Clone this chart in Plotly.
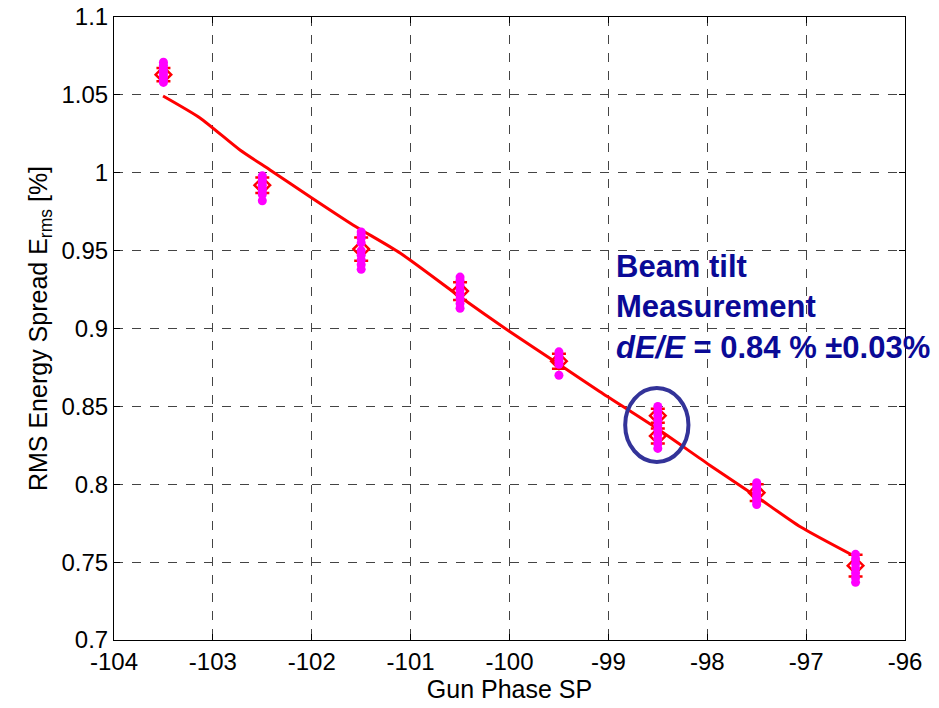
import plotly.graph_objects as go

# Gun phase set points (deg)
phase = [-103.5, -102.5, -101.5, -100.5, -99.5, -98.5, -97.5, -96.5]

# Individual shot energy spreads (%) per phase set point
shots = [
    [1.071, 1.069, 1.067, 1.065, 1.063, 1.061, 1.059, 1.058],
    [0.998, 0.996, 0.994, 0.992, 0.990, 0.988, 0.986, 0.982],
    [0.962, 0.960, 0.958, 0.955, 0.950, 0.947, 0.944, 0.941, 0.938],
    [0.933, 0.931, 0.928, 0.925, 0.922, 0.919, 0.916, 0.913],
    [0.885, 0.883, 0.881, 0.879, 0.877, 0.870],
    [0.850, 0.847, 0.844, 0.841, 0.838, 0.835, 0.832, 0.829, 0.826, 0.823],
    [0.801, 0.799, 0.797, 0.795, 0.793, 0.791, 0.789, 0.787],
    [0.755, 0.752, 0.749, 0.746, 0.743, 0.740, 0.737],
]

# Mean energy spread with rms error per measurement set
mean_phase = [-103.5, -102.5, -101.5, -100.5, -99.5, -98.5, -98.5, -97.5, -96.5]
mean_spread = [1.063, 0.992, 0.951, 0.924, 0.879, 0.844, 0.831, 0.7946, 0.7477]
mean_err = [0.0042, 0.005, 0.0075, 0.0057, 0.0048, 0.0045, 0.0048, 0.0054, 0.007]

# Simulated energy spread vs. gun phase
sim_phase = [-103.504, -103.130, -102.726, -102.422, -102.018, -101.583, -101.107,
             -100.501, -99.995, -99.489, -99.085, -98.511, -97.979, -97.500,
             -97.059, -96.496]
sim_spread = [1.0493, 1.0352, 1.0146, 1.0018, 0.9846, 0.9665, 0.9485,
              0.9204, 0.8979, 0.8766, 0.8594, 0.8359, 0.8124, 0.7920,
              0.7727, 0.7533]

x_ticks = [-104, -103, -102, -101, -100, -99, -98, -97, -96]
x_tick_text = ["-104", "-103", "-102", "-101", "-100", "-99", "-98", "-97", "-96"]
y_ticks = [0.7, 0.75, 0.8, 0.85, 0.9, 0.95, 1.0, 1.05, 1.1]
y_tick_text = ["0.7", "0.75", "0.8", "0.85", "0.9", "0.95", "1", "1.05", "1.1"]

FONT = "Arial, Liberation Sans, sans-serif"

fig = go.Figure()

fig.add_trace(go.Scatter(
    x=sim_phase, y=sim_spread, mode="lines",
    line=dict(color="#ff0000", width=3, shape="spline", smoothing=0.6),
    showlegend=False,
))

fig.add_trace(go.Scatter(
    x=mean_phase, y=mean_spread, mode="markers",
    marker=dict(symbol="diamond-open", size=12, color="#ff0000",
                line=dict(width=2.5, color="#ff0000")),
    error_y=dict(type="data", array=mean_err, color="#ff0000",
                 thickness=2.5, width=7),
    showlegend=False,
))

shot_x = [p for p, s in zip(phase, shots) for _ in s]
shot_y = [v for s in shots for v in s]
fig.add_trace(go.Scatter(
    x=shot_x, y=shot_y, mode="markers",
    marker=dict(symbol="circle", size=9, color="#ff00ff"),
    showlegend=False,
))

# Highlight of the beam tilt measurement
fig.add_shape(
    type="circle", xref="x", yref="y",
    x0=-98.83, x1=-98.19, y0=0.8143, y1=0.8618,
    line=dict(color="#333399", width=4),
)

fig.add_annotation(
    x=-98.943, y=0.9137, xref="x", yref="y",
    xanchor="left", yanchor="middle", align="left", showarrow=False,
    text="<b>Beam tilt<br>Measurement<br><i>dE/E</i> = 0.84 % ±0.03%</b>",
    font=dict(family=FONT, size=31, color="#0a0a96"),
)

axis_common = dict(
    showline=True, linecolor="black", linewidth=1, mirror="ticks",
    ticks="inside", ticklen=6, tickcolor="black",
    showgrid=True, gridcolor="#444444", gridwidth=1, griddash="dash",
    zeroline=False, automargin=False,
    tickfont=dict(family=FONT, size=24, color="black"),
)

fig.update_xaxes(
    range=[-104, -96], tickvals=x_ticks, ticktext=x_tick_text,
    title=dict(text="Gun Phase SP", font=dict(family=FONT, size=25, color="black"),
               standoff=4),
    **axis_common,
)
fig.update_yaxes(
    range=[0.7, 1.1], tickvals=y_ticks, ticktext=y_tick_text,
    title=dict(text="RMS Energy Spread E<sub>rms</sub> [%]",
               font=dict(family=FONT, size=25, color="black"), standoff=6),
    **axis_common,
)

fig.update_layout(
    width=939, height=708,
    margin=dict(l=114, r=34, t=17, b=68),
    paper_bgcolor="white", plot_bgcolor="white",
    font=dict(family=FONT),
)

fig.write_html("out.html")
